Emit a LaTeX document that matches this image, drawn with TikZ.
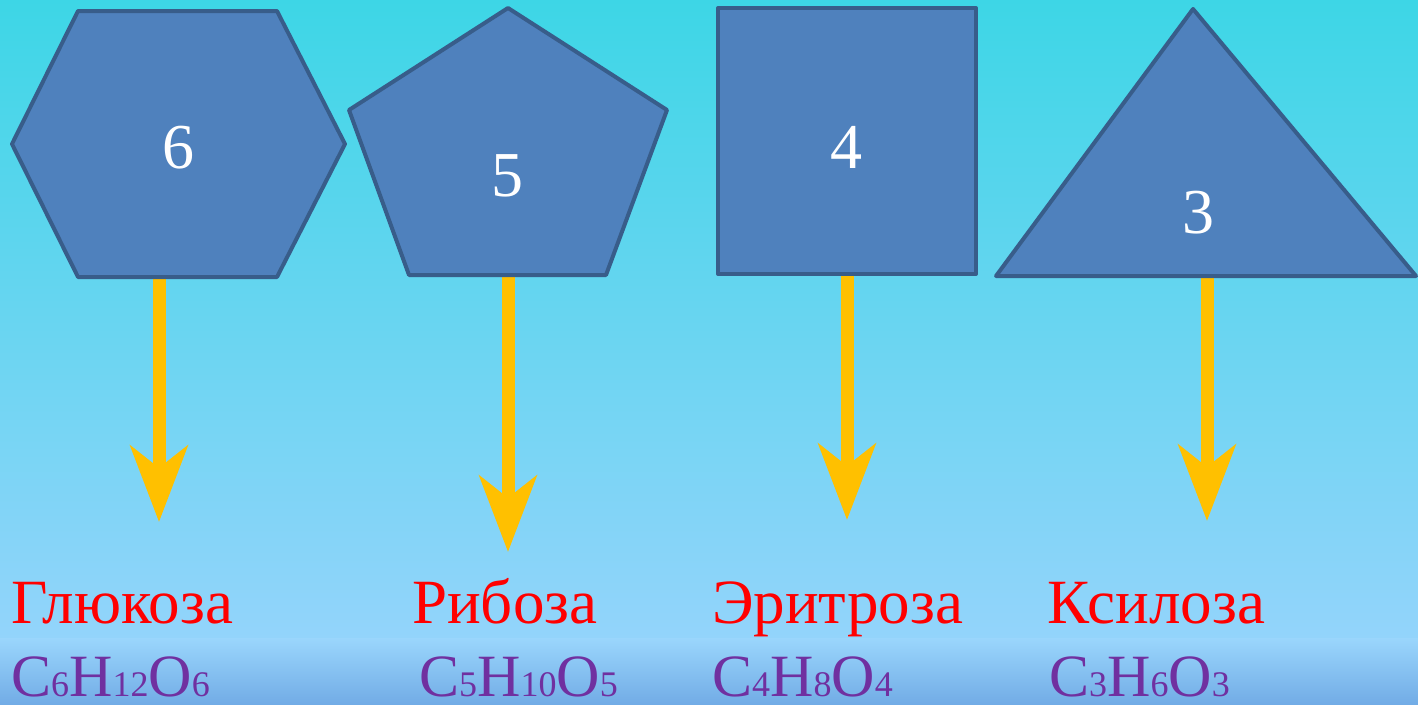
\documentclass[tikz,border=0pt]{standalone}
\usepackage{fontspec}
\setmainfont{Liberation Serif}
\newfontfamily\timesface{Liberation Serif}
\usetikzlibrary{arrows.meta}
\definecolor{skytop}{HTML}{3DD6E6}
\definecolor{skymid}{HTML}{6DD3F0}
\definecolor{skylow}{HTML}{93D4FB}
\definecolor{bandtop}{HTML}{9AD6FC}
\definecolor{bandlow}{HTML}{72ACE6}
\definecolor{shapefill}{HTML}{4F81BD}
\definecolor{shapeline}{HTML}{385D8A}
\definecolor{arrowgold}{HTML}{FFC000}
\definecolor{namered}{HTML}{FF0000}
\definecolor{formulapurple}{HTML}{7030A0}
\newcommand\idx[1]{{\fontsize{36}{40}\selectfont #1}}
\tikzset{
  figure/.style={fill=shapefill, draw=shapeline, line width=4pt, line join=round},
  count/.style={text=white, font=\timesface\fontsize{64}{70}\selectfont, anchor=base, inner sep=0pt},
  sugarname/.style={text=namered, font=\timesface\fontsize{63}{70}\selectfont, anchor=base west, inner sep=0pt},
  formula/.style={text=formulapurple, font=\timesface\fontsize{60}{70}\selectfont, anchor=base west, inner sep=0pt},
  pointer/.style={draw=arrowgold, line width=13pt,
    -{Stealth[length=76pt, width=57pt, inset=22pt]}}
}
\begin{document}
\begin{tikzpicture}[x=1pt, y=-1pt]
  \useasboundingbox (0,0) rectangle (1418,704);
  % backdrop
  \shade[top color=skytop, middle color=skymid, bottom color=skylow] (0,0) rectangle (1418,638);
  \shade[top color=bandtop, bottom color=bandlow] (0,638) rectangle (1418,704);

  % anchor points below each figure and arrow tips
  \coordinate (hexb) at (159,276);
  \coordinate (penb) at (508,274);
  \coordinate (squb) at (847,274);
  \coordinate (trib) at (1207,275);
  \coordinate (hext) at (159,522);
  \coordinate (pent) at (508,552);
  \coordinate (squt) at (847,520);
  \coordinate (trit) at (1207,521);

  % arrows
  \draw[pointer] (hexb) -- (hext);
  \draw[pointer] (penb) -- (pent);
  \draw[pointer] (squb) -- (squt);
  \draw[pointer] (trib) -- (trit);

  % figures
  \draw[figure] (78,11) -- (277,11) -- (345,144) -- (277,277) -- (78,277) -- (12,144) -- cycle;
  \draw[figure] (508,8) -- (667,110) -- (606,275) -- (409,275) -- (349,110) -- cycle;
  \draw[figure] (718,8) rectangle (976,274);
  \draw[figure] (1193,9) -- (1416,276) -- (996,276) -- cycle;

  % counts
  \node[count] (n6) at (178,168) {6};
  \node[count] (n5) at (507,196) {5};
  \node[count] (n4) at (846,168) {4};
  \node[count] (n3) at (1198,233) {3};

  % names
  \node[sugarname] (glu) at (11,623) {Глюкоза};
  \node[sugarname] (rib) at (412,623) {Рибоза};
  \node[sugarname] (ery) at (712,623) {Эритроза};
  \node[sugarname] (xyl) at (1047,623) {Ксилоза};

  % formulas
  \node[formula] (fglu) at (11,696) {C\idx{6}H\idx{12}O\idx{6}};
  \node[formula] (frib) at (419,696) {C\idx{5}H\idx{10}O\idx{5}};
  \node[formula] (fery) at (712,696) {C\idx{4}H\idx{8}O\idx{4}};
  \node[formula] (fxyl) at (1049,696) {C\idx{3}H\idx{6}O\idx{3}};
\end{tikzpicture}
\end{document}
